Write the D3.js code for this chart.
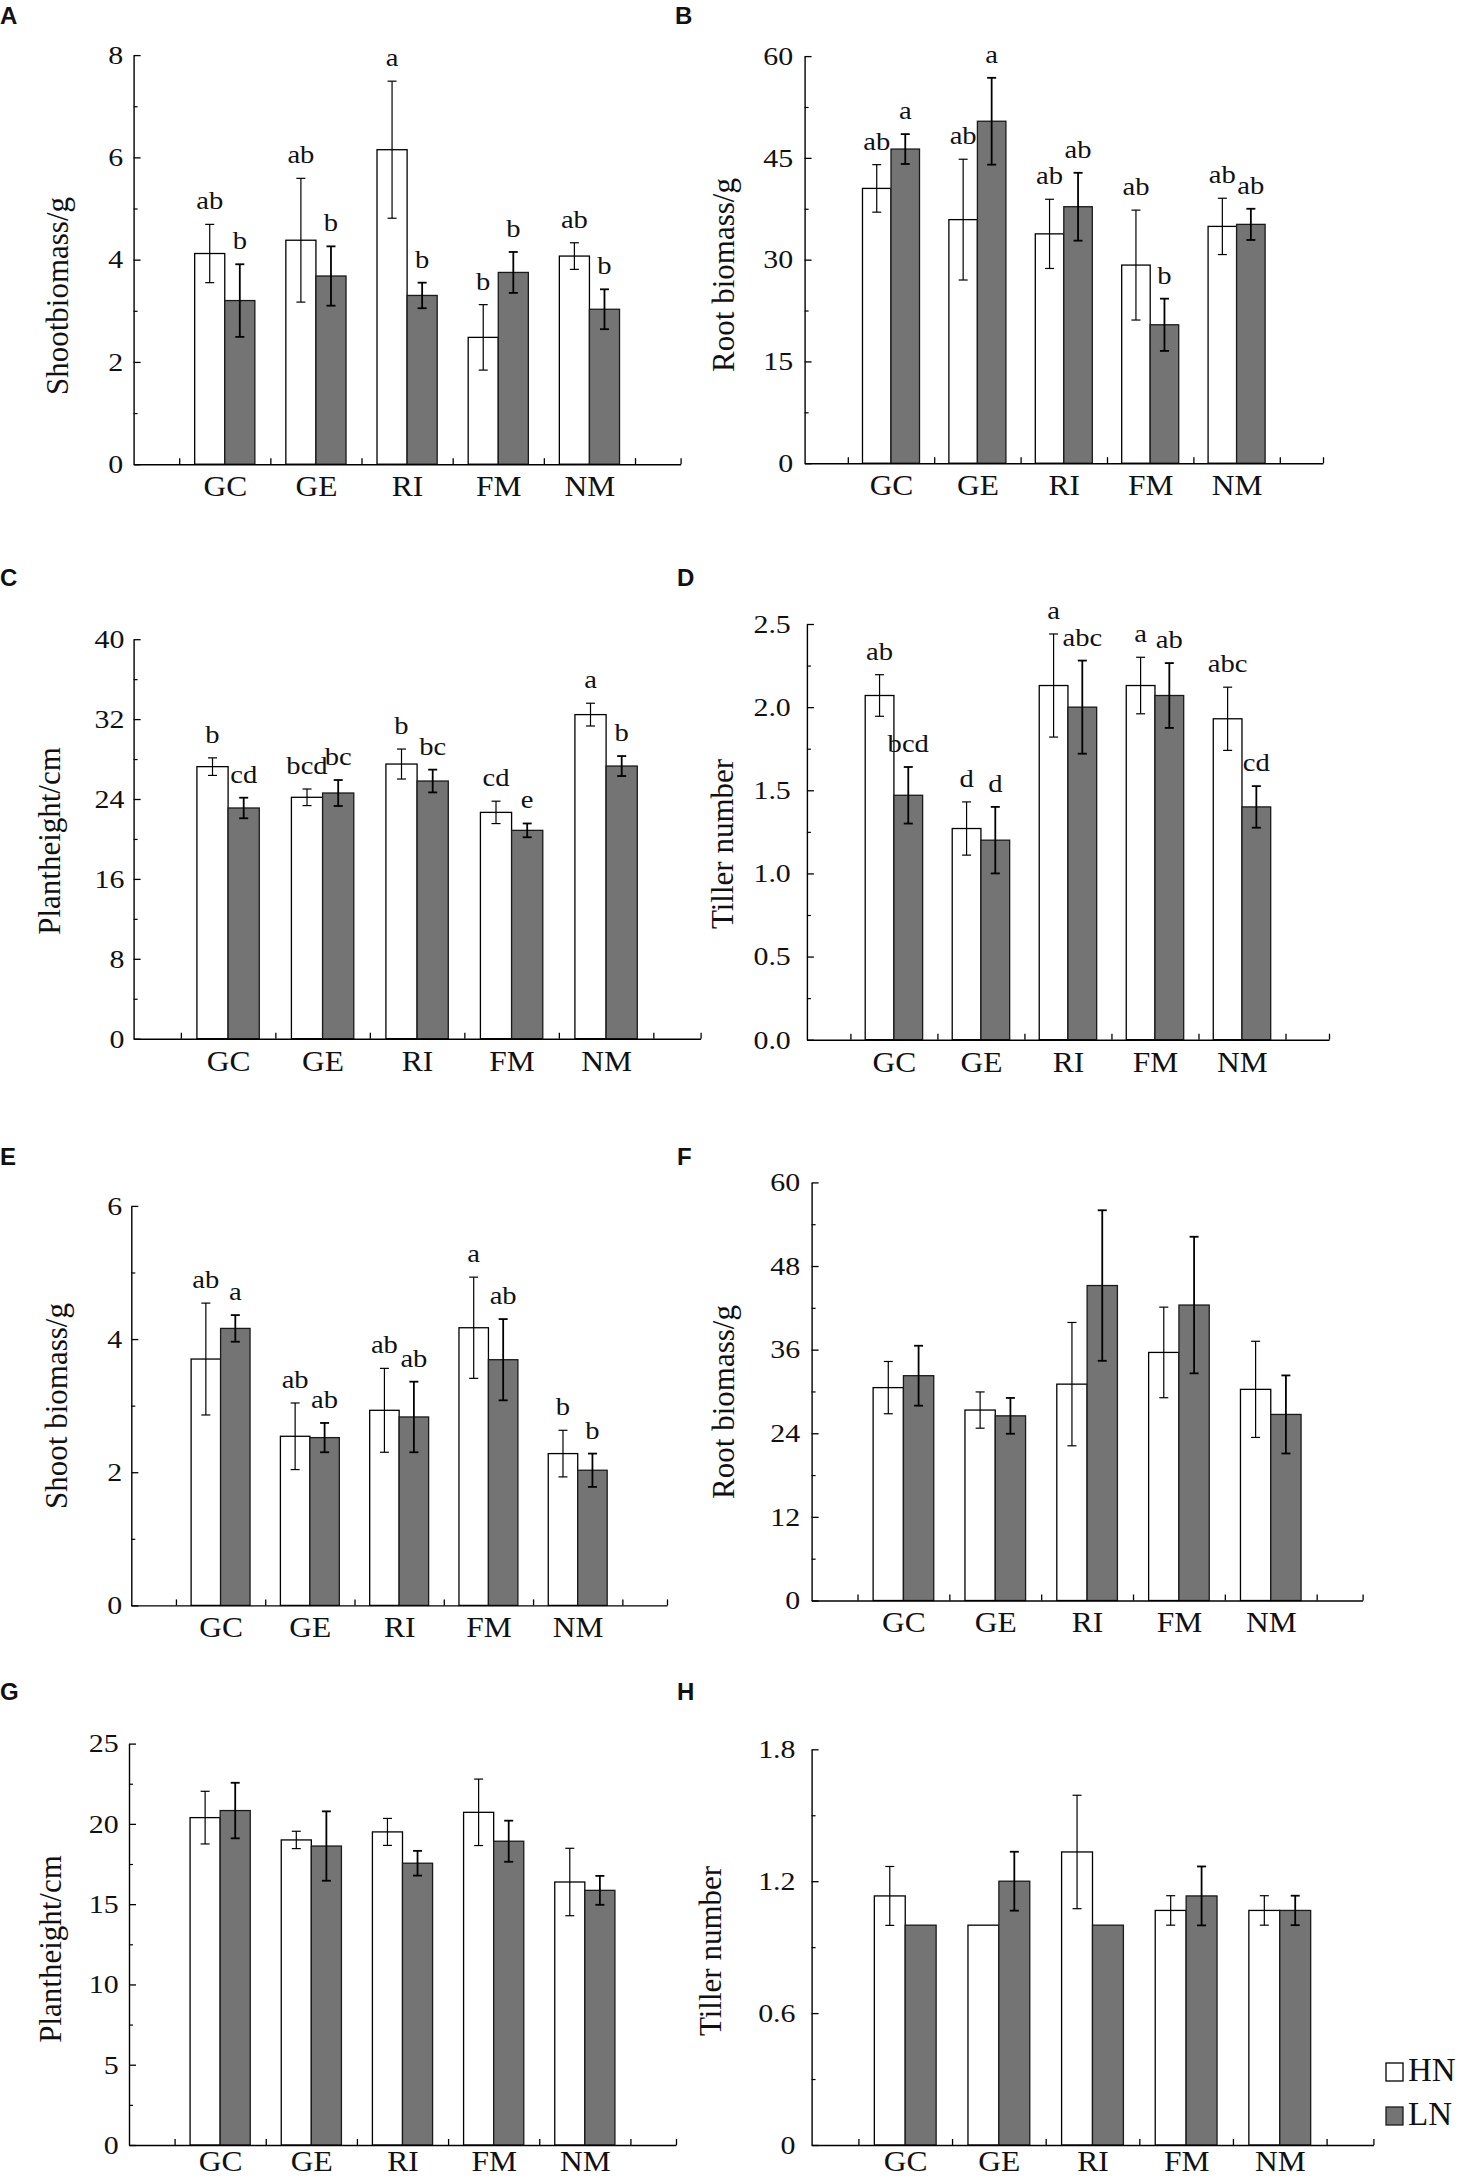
<!DOCTYPE html>
<html>
<head>
<meta charset="utf-8">
<script src="https://cdn.jsdelivr.net/npm/d3@7"></script>
<style>
  body { margin: 0; background: #fff; }
  text { font-family: "Liberation Serif", "Times New Roman", serif; fill: #111; }
  .tag { font-family: "Liberation Sans", Arial, sans-serif; font-weight: bold; font-size: 24px; }
</style>
</head>
<body>
<div class="canvas"></div>
<script>
// categories and series
var groups = ["GC", "GE", "RI", "FM", "NM"];
var series = ["HN", "LN"];

// A - shoot biomass (g)
var A_mean = [[4.12, 4.38, 6.15, 2.48, 4.07], [3.20, 3.68, 3.30, 3.75, 3.03]];
var A_err  = [[0.57, 1.21, 1.34, 0.64, 0.26], [0.71, 0.58, 0.25, 0.40, 0.39]];
var A_sig  = [["ab", "ab", "a", "b", "ab"], ["b", "b", "b", "b", "b"]];
var A_ticks = [0, 2, 4, 6, 8];
var A_minor = [1, 3, 5, 7];

// B - root biomass (g)
var B_mean = [[40.5, 35.9, 33.8, 29.2, 34.9], [46.3, 50.4, 37.8, 20.4, 35.2]];
var B_err  = [[3.5, 8.9, 5.1, 8.1, 4.15], [2.2, 6.4, 5.0, 3.85, 2.3]];
var B_sig  = [["ab", "ab", "ab", "ab", "ab"], ["a", "a", "ab", "b", "ab"]];
var B_ticks = [0, 15, 30, 45, 60];
var B_minor = [7.5, 22.5, 37.5, 52.5];

// C - plant height (cm)
var C_mean = [[27.24, 24.17, 27.5, 22.66, 32.45], [23.1, 24.6, 25.8, 20.86, 27.3]];
var C_err  = [[0.88, 0.83, 1.5, 1.12, 1.14], [1.03, 1.3, 1.14, 0.69, 1.0]];
var C_sig  = [["b", "bcd", "b", "cd", "a"], ["cd", "bc", "bc", "e", "b"]];
var C_ticks = [0, 8, 16, 24, 32, 40];
var C_minor = [4, 12, 20, 28, 36];

// D - tiller number
var D_mean = [[2.07, 1.27, 2.13, 2.13, 1.93], [1.47, 1.20, 2.00, 2.07, 1.40]];
var D_err  = [[0.125, 0.16, 0.31, 0.17, 0.19], [0.17, 0.20, 0.28, 0.195, 0.125]];
var D_sig  = [["ab", "d", "a", "a", "abc"], ["bcd", "d", "abc", "ab", "cd"]];
var D_ticks = [0, 0.5, 1.0, 1.5, 2.0, 2.5];
var D_minor = [0.25, 0.75, 1.25, 1.75, 2.25];

// E - shoot biomass (g)
var E_mean = [[3.70, 2.54, 2.93, 4.17, 2.28], [4.16, 2.52, 2.83, 3.69, 2.03]];
var E_err  = [[0.84, 0.50, 0.63, 0.76, 0.35], [0.20, 0.22, 0.53, 0.61, 0.25]];
var E_sig  = [["ab", "ab", "ab", "a", "b"], ["a", "ab", "ab", "ab", "b"]];
var E_ticks = [0, 2, 4, 6];
var E_minor = [1, 3, 5];

// F - root biomass (g)
var F_mean = [[30.55, 27.33, 31.05, 35.6, 30.3], [32.26, 26.5, 45.2, 42.4, 26.7]];
var F_err  = [[3.75, 2.6, 8.85, 6.5, 6.9], [4.3, 2.57, 10.8, 9.8, 5.6]];
var F_ticks = [0, 12, 24, 36, 48, 60];
var F_minor = [6, 18, 30, 42, 54];

// G - plant height (cm)
var G_mean = [[20.39, 19.0, 19.5, 20.72, 16.38], [20.83, 18.62, 17.55, 18.92, 15.86]];
var G_err  = [[1.64, 0.54, 0.84, 2.07, 2.1], [1.73, 2.16, 0.77, 1.28, 0.9]];
var G_ticks = [0, 5, 10, 15, 20, 25];
var G_minor = [2.5, 7.5, 12.5, 17.5, 22.5];

// H - tiller number
var H_mean = [[1.133, 1.0, 1.333, 1.067, 1.067], [1.0, 1.2, 1.0, 1.133, 1.067]];
var H_err  = [[0.134, 0, 0.258, 0.067, 0.067], [0, 0.134, 0, 0.134, 0.067]];
var H_ticks = [0, 0.6, 1.2, 1.8];
var H_minor = [0.3, 0.9, 1.5];

var fmtInt = function(d){ return d3.format("d")(d); };
var fmt1 = function(d){ return d3.format(".1f")(d); };
var fmtH = function(d){ return d === 0 ? "0" : d3.format(".1f")(d); };

// panel frames
var panels = [
  {tag:"A", tagX:0,   tagY:24,   mean:A_mean, err:A_err, sig:A_sig, ticks:A_ticks, minor:A_minor, fmt:fmtInt, pad:9,  title:"Shootbiomass/g",  tx:68,  ty:296,  x0:133.6, x1:680.6,  yTop:55.1,   y0:464.2,  lab:32},
  {tag:"B", tagX:675, tagY:24,   mean:B_mean, err:B_err, sig:B_sig, ticks:B_ticks, minor:B_minor, fmt:fmtInt, pad:10, title:"Root biomass/g",  tx:734, ty:275,  x0:804.6, x1:1323,   yTop:56.1,   y0:463.2,  lab:32},
  {tag:"C", tagX:0,   tagY:586,  mean:C_mean, err:C_err, sig:C_sig, ticks:C_ticks, minor:C_minor, fmt:fmtInt, pad:8,  title:"Plantheight/cm",  tx:60,  ty:841,  x0:133.6, x1:700.6,  yTop:639.2,  y0:1038.7, lab:32},
  {tag:"D", tagX:677, tagY:586,  mean:D_mean, err:D_err, sig:D_sig, ticks:D_ticks, minor:D_minor, fmt:fmt1,   pad:14, title:"Tiller number",   tx:733, ty:844,  x0:806.9, x1:1329,   yTop:624,    y0:1039.7, lab:32},
  {tag:"E", tagX:0,   tagY:1165, mean:E_mean, err:E_err, sig:E_sig, ticks:E_ticks, minor:E_minor, fmt:fmtInt, pad:8,  title:"Shoot biomass/g", tx:67,  ty:1406, x0:131.3, x1:667,    yTop:1205.9, y0:1605.4, lab:32},
  {tag:"F", tagX:677, tagY:1165, mean:F_mean, err:F_err, sig:null,  ticks:F_ticks, minor:F_minor, fmt:fmtInt, pad:10, title:"Root biomass/g",  tx:734, ty:1402, x0:811.6, x1:1362.6, yTop:1182.4, y0:1600.5, lab:32},
  {tag:"G", tagX:0,   tagY:1700, mean:G_mean, err:G_err, sig:null,  ticks:G_ticks, minor:G_minor, fmt:fmtInt, pad:9,  title:"Plantheight/cm",  tx:61,  ty:1949, x0:129,   x1:676,    yTop:1743.6, y0:2145,   lab:26},
  {tag:"H", tagX:677, tagY:1700, mean:H_mean, err:H_err, sig:null,  ticks:H_ticks, minor:H_minor, fmt:fmtH,   pad:14, title:"Tiller number",   tx:721, ty:1951, x0:811.6, x1:1373.4, yTop:1749.3, y0:2145,   lab:26}
];

var fills = ["#ffffff", "#747474"];
var strokes = ["#000", "#1a1a1a"];
var errW = [1.2, 1.8];
var barFrac = 0.33;

var svg = d3.select(".canvas")
            .append("svg")
            .attr("width", 1461)
            .attr("height", 2178)
            .style("display", "block");

svg.append("rect").attr("width", 1461).attr("height", 2178).attr("fill", "#fff");

panels.forEach(function(p){

  var x = d3.scaleLinear().domain([0, 6]).range([p.x0, p.x1]);
  var y = d3.scaleLinear().domain([0, d3.max(p.ticks)]).range([p.y0, p.yTop]);
  var band = x(1) - x(0);
  var bw = band * barFrac;

  svg.append("text")
     .attr("class", "tag")
     .attr("x", p.tagX)
     .attr("y", p.tagY)
     .text(p.tag);

  var g = svg.append("g");

  // bars
  series.forEach(function(s, si){
    var rows = groups.map(function(c, i){
      return {i: i, v: p.mean[si][i], e: p.err[si][i], s: p.sig ? p.sig[si][i] : null};
    });
    var bx = function(d){ return si === 0 ? x(d.i + 1) - bw : x(d.i + 1); };

    g.selectAll(".bar" + si)
     .data(rows)
     .enter().append("rect")
     .attr("x", bx)
     .attr("y", function(d){ return y(d.v); })
     .attr("width", bw)
     .attr("height", function(d){ return y(0) - y(d.v); })
     .attr("fill", fills[si])
     .attr("stroke", strokes[si])
     .attr("stroke-width", 1.3);

    var eb = g.selectAll(".err" + si)
              .data(rows.filter(function(d){ return d.e > 0; }))
              .enter().append("g")
              .attr("stroke", "#000")
              .attr("stroke-width", errW[si]);
    eb.append("line")
      .attr("x1", function(d){ return bx(d) + bw / 2; })
      .attr("x2", function(d){ return bx(d) + bw / 2; })
      .attr("y1", function(d){ return y(d.v + d.e); })
      .attr("y2", function(d){ return y(d.v - d.e); });
    [1, -1].forEach(function(k){
      eb.append("line")
        .attr("x1", function(d){ return bx(d) + bw / 2 - 4.5; })
        .attr("x2", function(d){ return bx(d) + bw / 2 + 4.5; })
        .attr("y1", function(d){ return y(d.v + k * d.e); })
        .attr("y2", function(d){ return y(d.v + k * d.e); });
    });

    if (p.sig) {
      g.selectAll(".sig" + si)
       .data(rows)
       .enter().append("text")
       .attr("text-anchor", "middle")
       .attr("font-size", 26)
       .attr("transform", function(d){
         return "translate(" + (bx(d) + bw / 2) + "," + (y(d.v + d.e) - 15) + ") scale(1.1,1)";
       })
       .text(function(d){ return d.s; });
    }
  });

  // y axis
  var ya = svg.append("g")
              .attr("transform", "translate(" + p.x0 + ",0)")
              .call(d3.axisLeft(y).tickValues(p.ticks).tickFormat(p.fmt)
                      .tickSizeInner(-7).tickSizeOuter(0).tickPadding(p.pad));
  ya.select(".domain").attr("stroke", "#000").attr("stroke-width", 1.4);
  ya.selectAll(".tick line").attr("stroke", "#000").attr("stroke-width", 1.3);
  ya.selectAll(".tick text")
    .attr("font-size", 26)
    .attr("font-family", "Liberation Serif, Times New Roman, serif")
    .attr("fill", "#111")
    .attr("transform", "scale(1.15,1)");

  svg.append("g")
     .attr("transform", "translate(" + p.x0 + ",0)")
     .call(d3.axisLeft(y).tickValues(p.minor).tickFormat("").tickSizeInner(-4).tickSizeOuter(0))
     .call(function(s){ s.select(".domain").remove(); })
     .selectAll(".tick line").attr("stroke", "#000").attr("stroke-width", 1.2);

  // x axis
  var xa = svg.append("g")
              .attr("transform", "translate(0," + p.y0 + ")")
              .call(d3.axisBottom(x).tickValues([0.5, 1.5, 2.5, 3.5, 4.5, 5.5, 6]).tickFormat("")
                      .tickSizeInner(-6).tickSizeOuter(0));
  xa.select(".domain").attr("stroke", "#000").attr("stroke-width", 1.4);
  xa.selectAll(".tick line").attr("stroke", "#000").attr("stroke-width", 1.3);

  svg.append("g")
     .attr("transform", "translate(0," + p.y0 + ")")
     .call(d3.axisBottom(x).tickValues([1, 2, 3, 4, 5])
             .tickFormat(function(d){ return groups[d - 1]; })
             .tickSize(0).tickPadding(0))
     .call(function(s){ s.select(".domain").remove(); })
     .selectAll(".tick text")
     .attr("font-size", 30)
     .attr("font-family", "Liberation Serif, Times New Roman, serif")
     .attr("fill", "#111")
     .attr("dy", null)
     .attr("y", p.lab)
     .attr("transform", "scale(1.05,1)");

  // y title
  svg.append("text")
     .attr("transform", "translate(" + p.tx + "," + p.ty + ") rotate(-90)")
     .attr("text-anchor", "middle")
     .attr("font-size", 31)
     .text(p.title);
});

// legend
var leg = svg.append("g");
series.forEach(function(s, si){
  var ly = 2063 + si * 44;
  leg.append("rect")
     .attr("x", 1386).attr("y", ly)
     .attr("width", 17).attr("height", 18)
     .attr("fill", fills[si])
     .attr("stroke", strokes[si])
     .attr("stroke-width", 1.3);
  leg.append("text")
     .attr("x", 1408).attr("y", ly + 18)
     .attr("font-size", 33)
     .text(s);
});
</script>
</body>
</html>
